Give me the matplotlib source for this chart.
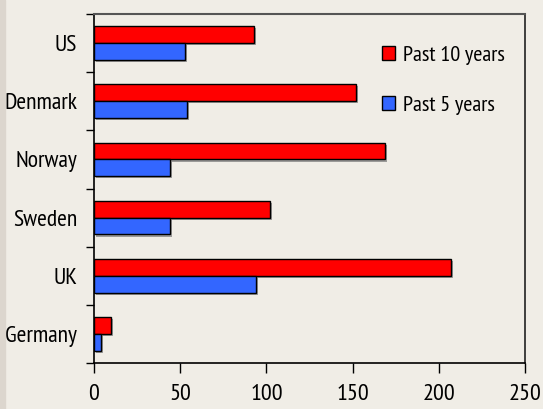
import matplotlib

matplotlib.use("Agg")
import matplotlib.pyplot as plt
import matplotlib.patheffects as pe
import numpy as np
from matplotlib.patches import Patch

countries = ["US", "Denmark", "Norway", "Sweden", "UK", "Germany"]
past_10_years = [93, 152, 169, 102, 207, 10]
past_5_years = [53, 54, 44, 44, 94, 4]
series_labels = ["Past 10 years", "Past 5 years"]
x_ticks = [0, 50, 100, 150, 200, 250]

RED = "#FF0000"
BLUE = "#3366FF"
BG = "#F0EDE6"

plt.rcParams["font.family"] = ["PT Sans Narrow", "Archivo Narrow", "Liberation Sans", "DejaVu Sans"]

fig = plt.figure(figsize=(5.43, 4.09), dpi=100, facecolor=BG)
# thin darker strip on the left edge
fig.patches.append(
    plt.Rectangle((0, 0), 5 / 543, 1, transform=fig.transFigure, color="#DCD6CE", zorder=0)
)
ax = fig.add_axes([94 / 543, 46 / 409, 431 / 543, 349 / 409])
ax.set_facecolor(BG)

y = np.arange(len(countries))
h = 0.29
shadow = [pe.SimplePatchShadow(offset=(1.5, -1.5), shadow_rgbFace="#777777", alpha=0.7), pe.Normal()]
bars_10 = ax.barh(y - h / 2, past_10_years, height=h, color=RED, edgecolor="black", linewidth=1)
bars_5 = ax.barh(y + h / 2, past_5_years, height=h, color=BLUE, edgecolor="black", linewidth=1)
for b in list(bars_10) + list(bars_5):
    b.set_path_effects(shadow)

ax.set_xlim(0, 250)
ax.set_ylim(len(countries) - 0.5, -0.5)
ax.set_xticks(x_ticks)
ax.set_xticklabels([str(t) for t in x_ticks], fontsize=17.5)
ax.set_yticks(y)
ax.set_yticklabels(countries, fontsize=17)
ax.set_yticks(np.arange(len(countries) + 1) - 0.5, minor=True)
ax.tick_params(axis="y", which="major", length=0, pad=12)
ax.tick_params(axis="y", which="minor", length=6, width=1, direction="out")
ax.tick_params(axis="x", which="major", length=7, width=1, direction="out", pad=8)

for side in ["left", "bottom"]:
    ax.spines[side].set_color("black")
    ax.spines[side].set_linewidth(1.2)
ax.spines["top"].set_color("#555555")
ax.spines["top"].set_linewidth(1.5)
ax.spines["right"].set_color("#222222")
ax.spines["right"].set_linewidth(1.2)

handles = [
    Patch(facecolor=RED, edgecolor="black", linewidth=1),
    Patch(facecolor=BLUE, edgecolor="black", linewidth=1),
]
ax.legend(
    handles,
    series_labels,
    loc="upper left",
    bbox_to_anchor=(382 / 543, 1 - 46 / 409),
    bbox_transform=fig.transFigure,
    frameon=False,
    fontsize=16,
    handlelength=0.6,
    handleheight=0.6,
    handletextpad=0.35,
    labelspacing=1.4,
    borderpad=0,
    borderaxespad=0,
)

fig.savefig("out.png", dpi=100, facecolor=BG)
